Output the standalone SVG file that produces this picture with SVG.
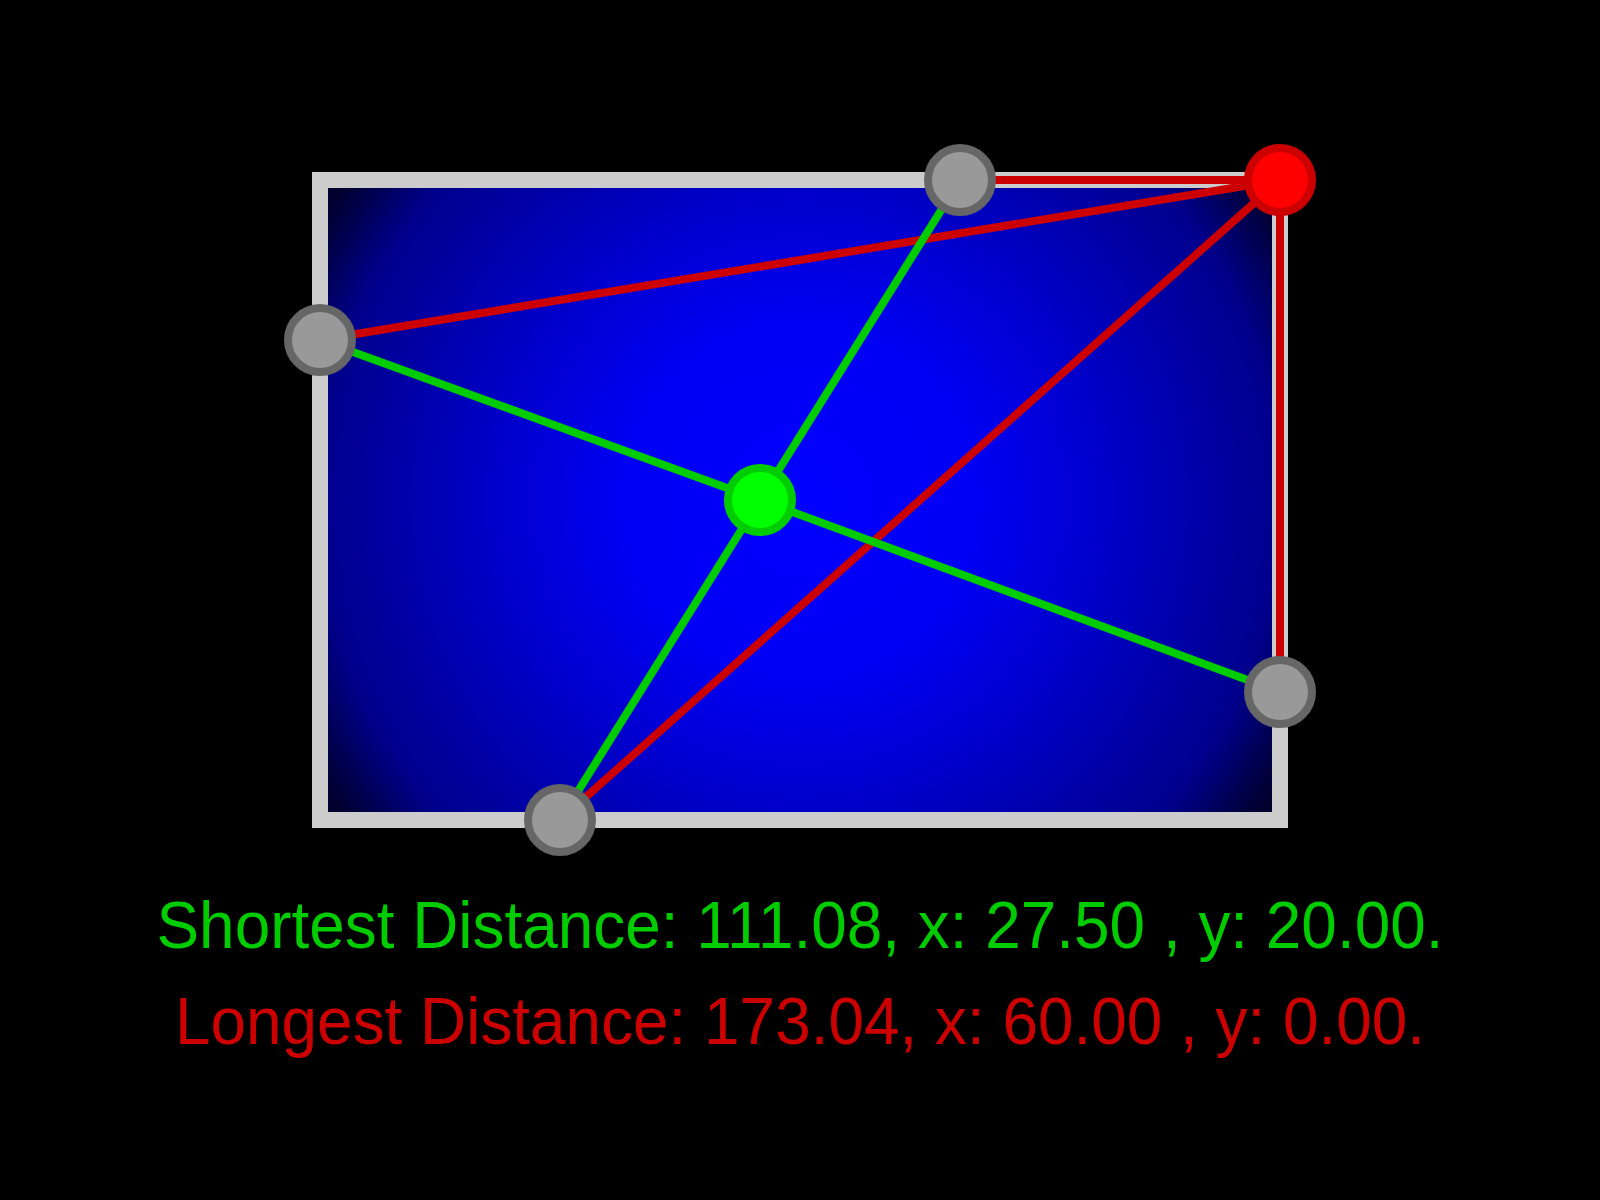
<svg xmlns="http://www.w3.org/2000/svg" width="1600" height="1200" viewBox="0 0 1600 1200">
<defs>
<radialGradient id="bg" gradientUnits="userSpaceOnUse" cx="800" cy="500" r="577">
<stop offset="0" stop-color="#0000ff"/>
<stop offset="0.3" stop-color="#0000f5"/>
<stop offset="0.52" stop-color="#0000cc"/>
<stop offset="0.83" stop-color="#00008c"/>
<stop offset="0.95" stop-color="#000035"/>
<stop offset="1" stop-color="#000020"/>
</radialGradient>
</defs>
<style>
.g{stroke:#00cc00;stroke-width:8;fill:none}
.r{stroke:#cc0000;stroke-width:8;fill:none}
.n{fill:#999999;stroke:#666666;stroke-width:8}
.t{font-family:"Liberation Sans",Arial,sans-serif;font-size:66px;text-anchor:middle}
</style>
<rect width="1600" height="1200" fill="#000"/>
<g id="area"><rect x="320" y="180" width="960" height="640" fill="url(#bg)" stroke="#cccccc" stroke-width="16"/></g>
<g id="connectors">
<line class="r" x1="1280" y1="180" x2="960" y2="180"/>
<line class="r" x1="1280" y1="180" x2="320" y2="340"/>
<line class="r" x1="1280" y1="180" x2="1280" y2="692"/>
<line class="r" x1="1280" y1="180" x2="560" y2="820"/>
<line class="g" x1="760" y1="500" x2="960" y2="180"/>
<line class="g" x1="760" y1="500" x2="320" y2="340"/>
<line class="g" x1="760" y1="500" x2="1280" y2="692"/>
<line class="g" x1="760" y1="500" x2="560" y2="820"/>
</g>
<g id="node-top"><circle class="n" cx="960" cy="180" r="32"/></g>
<g id="node-left"><circle class="n" cx="320" cy="340" r="32"/></g>
<g id="node-right"><circle class="n" cx="1280" cy="692" r="32"/></g>
<g id="node-bottom"><circle class="n" cx="560" cy="820" r="32"/></g>
<g id="node-center"><circle cx="760" cy="500" r="32" fill="#00ff00" stroke="#00cc00" stroke-width="8"/></g>
<g id="node-far"><circle cx="1280" cy="180" r="32" fill="#ff0000" stroke="#cc0000" stroke-width="8"/></g>
<text class="t" x="800" y="948" fill="#00cc00" textLength="1287" lengthAdjust="spacingAndGlyphs">Shortest Distance: 111.08, x: 27.50 , y: 20.00.</text>
<text class="t" x="800" y="1044" fill="#cc0000" textLength="1250" lengthAdjust="spacingAndGlyphs">Longest Distance: 173.04, x: 60.00 , y: 0.00.</text>
</svg>
